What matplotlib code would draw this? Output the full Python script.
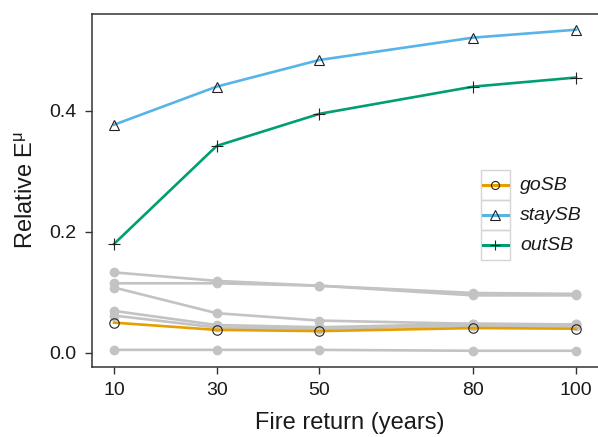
import matplotlib
matplotlib.use("Agg")
import matplotlib.pyplot as plt
from matplotlib.lines import Line2D
from matplotlib.patches import Rectangle

plt.rcParams['font.family'] = ['Liberation Sans', 'DejaVu Sans']

fire_return = [10, 30, 50, 80, 100]

# Background sub-model curves (grey)
grey_series = [
    [0.133, 0.119, 0.111, 0.099, 0.0975],
    [0.115, 0.115, 0.111, 0.095, 0.095],
    [0.108, 0.0656, 0.0534, 0.048, 0.047],
    [0.0694, 0.046, 0.0424, 0.048, 0.047],
    [0.0617, 0.042, 0.0397, 0.045, 0.044],
    [0.005, 0.005, 0.005, 0.0035, 0.0035],
]

go_sb = [0.050, 0.038, 0.036, 0.041, 0.040]
stay_sb = [0.377, 0.440, 0.484, 0.521, 0.534]
out_sb = [0.180, 0.342, 0.395, 0.440, 0.455]

series_names = ["goSB", "staySB", "outSB"]
series_colors = ["#e69f00", "#56b4e9", "#009e73"]
series_markers = ["o", "^", "+"]

y_ticks = [0.0, 0.2, 0.4]
y_tick_labels = ["0.0", "0.2", "0.4"]

W, H = 598, 437
fig = plt.figure(figsize=(W / 100, H / 100), dpi=100)
ax_left, ax_bottom, ax_top = 92, 366.5, 14
ax_width_px = (W - ax_left) * 1.02  # axes run slightly past the right edge
ax = fig.add_axes([ax_left / W, (H - ax_bottom) / H, ax_width_px / W,
                   (ax_bottom - ax_top) / H])

grey = "#c3c3c3"
for s in grey_series:
    ax.plot(fire_return, s, color=grey, lw=1.9, marker="o", ms=6,
            markeredgecolor=grey, zorder=2, solid_capstyle="round")

marker_sizes = {"o": 6.8, "^": 7.8, "+": 9}
for vals, name, col, mk in zip([go_sb, stay_sb, out_sb], series_names,
                               series_colors, series_markers):
    ax.plot(fire_return, vals, color=col, lw=1.9, marker=mk,
            ms=marker_sizes[mk], markerfacecolor="none",
            markeredgecolor="#222222", markeredgewidth=0.8, zorder=4)

px_per_year = (576 - 114) / 90.0
x0 = 10 - (114 - ax_left) / px_per_year
ax.set_xlim(x0, x0 + ax_width_px / px_per_year)
ax.set_ylim(-0.0225, 0.560)

ax.set_xticks(fire_return)
ax.set_xticklabels([str(v) for v in fire_return])
ax.set_yticks(y_ticks)
ax.set_yticklabels(y_tick_labels)

for sp in ax.spines.values():
    sp.set_color("#333333")
    sp.set_linewidth(1.1)
ax.spines["right"].set_visible(False)

ax.tick_params(axis="both", direction="out", length=5, width=1.0,
               color="#333333", labelcolor="#1a1a1a", labelsize=14, pad=6)

ax.set_xlabel("Fire return (years)", fontsize=17, color="#1a1a1a", labelpad=9.5)
ax.set_ylabel("Relative E$^{\\mathregular{μ}}$", fontsize=17, color="#1a1a1a",
              labelpad=8)

# Legend drawn as keyed boxes
def fx(px):
    return px / W

def fy(py):
    return (H - py) / H

box_x0, box_w, box_h, top_y = 481, 29, 30, 170
for i, (name, col, mk) in enumerate(zip(series_names, series_colors, series_markers)):
    y_top = top_y + i * box_h
    fig.patches.append(Rectangle((fx(box_x0), fy(y_top + box_h)), box_w / W, box_h / H,
                                 transform=fig.transFigure, fill=False,
                                 edgecolor="#d5d5d5", lw=1.0))
    cy = y_top + box_h / 2
    fig.lines.append(Line2D([fx(box_x0 + 2), fx(box_x0 + box_w - 2)], [fy(cy), fy(cy)],
                            transform=fig.transFigure, color=col, lw=2.2))
    fig.lines.append(Line2D([fx(box_x0 + box_w / 2)], [fy(cy)],
                            transform=fig.transFigure, marker=mk, ms=marker_sizes[mk] * 0.85,
                            markerfacecolor="none", markeredgecolor="#222222",
                            markeredgewidth=0.8, linestyle="none"))
    fig.text(fx(520), fy(cy), name, fontsize=14, style="italic", color="#1a1a1a",
             va="center", ha="left")

fig.savefig("out.png", dpi=100)
